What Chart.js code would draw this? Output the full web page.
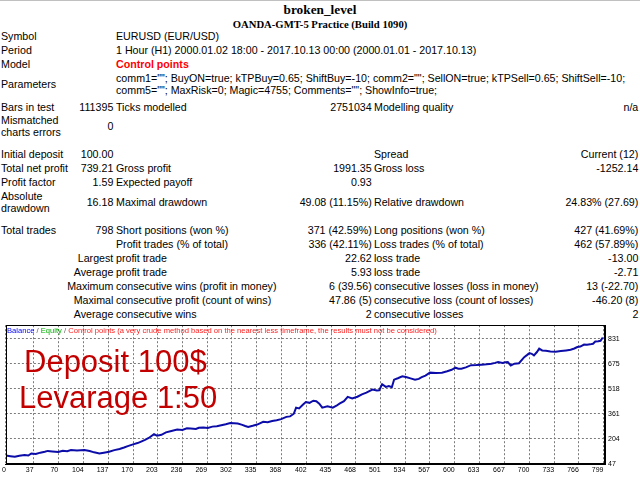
<!DOCTYPE html>
<html>
<head>
<meta charset="utf-8">
<script src="https://cdn.jsdelivr.net/npm/chart.js@4.4.1/dist/chart.umd.min.js"></script>
<style>
  html, body { margin: 0; padding: 0; background: #fff; }
  body { width: 640px; height: 480px; position: relative; overflow: hidden; }
  .topline { position: absolute; left: 0; top: 0; width: 640px; height: 1px; background: #c0c0c0; }
  .t { position: absolute; white-space: nowrap; font: 10.67px "Liberation Sans", Arial, sans-serif; line-height: 12px; color: #000; }
  .c1 { left: 1px; }
  .c2 { right: 526.7px; text-align: right; }
  .c3 { left: 116px; }
  .c4 { right: 268.3px; text-align: right; }
  .c5 { left: 374px; }
  .c6 { right: 1.7px; text-align: right; }
  .head { position: absolute; left: 0; width: 640px; text-align: center; font-family: "Liberation Serif", "Times New Roman", serif; font-weight: bold; white-space: nowrap; }
  .red { color: #ff0000; font-weight: bold; }
  #chartBox { position: absolute; left: 0; top: 318px; width: 640px; height: 162px; }
  .legend { position: absolute; left: 7px; top: 326px; font: 7.6px "Liberation Sans", Arial, sans-serif; line-height: 9px; white-space: nowrap; color: #555; }
  .big { position: absolute; font: 31px "Liberation Sans", Arial, sans-serif; line-height: 31px; color: #c20000; white-space: nowrap; }
</style>
</head>
<body>
<div class="topline"></div>
<div class="head" style="top:2px;font-size:13.3px;line-height:16px;">broken_level</div>
<div class="head" style="top:18px;font-size:10.67px;line-height:12px;">OANDA-GMT-5 Practice (Build 1090)</div>

<div class="t c1" style="top:30px">Symbol</div>
<div class="t c3" style="top:30px">EURUSD (EUR/USD)</div>
<div class="t c1" style="top:44px">Period</div>
<div class="t c3" style="top:44px">1 Hour (H1) 2000.01.02 18:00 - 2017.10.13 00:00 (2000.01.01 - 2017.10.13)</div>
<div class="t c1" style="top:58px">Model</div>
<div class="t c3 red" style="top:58px">Control points</div>
<div class="t c1" style="top:78px">Parameters</div>
<div class="t c3" style="top:72px">comm1=""; BuyON=true; kTPBuy=0.65; ShiftBuy=-10; comm2=""; SellON=true; kTPSell=0.65; ShiftSell=-10;</div>
<div class="t c3" style="top:84px">comm5=""; MaxRisk=0; Magic=4755; Comments=""; ShowInfo=true;</div>
<div class="t c1" style="top:101px">Bars in test</div>
<div class="t c2" style="top:101px">111395</div>
<div class="t c3" style="top:101px">Ticks modelled</div>
<div class="t c4" style="top:101px">2751034</div>
<div class="t c5" style="top:101px">Modelling quality</div>
<div class="t c6" style="top:101px">n/a</div>
<div class="t c1" style="top:114px">Mismatched</div>
<div class="t c1" style="top:126px">charts errors</div>
<div class="t c2" style="top:120px">0</div>

<div class="t c1" style="top:148px">Initial deposit</div>
<div class="t c2" style="top:148px">100.00</div>
<div class="t c5" style="top:148px">Spread</div>
<div class="t c6" style="top:148px">Current (12)</div>
<div class="t c1" style="top:162px">Total net profit</div>
<div class="t c2" style="top:162px">739.21</div>
<div class="t c3" style="top:162px">Gross profit</div>
<div class="t c4" style="top:162px">1991.35</div>
<div class="t c5" style="top:162px">Gross loss</div>
<div class="t c6" style="top:162px">-1252.14</div>
<div class="t c1" style="top:176px">Profit factor</div>
<div class="t c2" style="top:176px">1.59</div>
<div class="t c3" style="top:176px">Expected payoff</div>
<div class="t c4" style="top:176px">0.93</div>
<div class="t c1" style="top:190px">Absolute</div>
<div class="t c1" style="top:202px">drawdown</div>
<div class="t c2" style="top:196px">16.18</div>
<div class="t c3" style="top:196px">Maximal drawdown</div>
<div class="t c4" style="top:196px">49.08 (11.15%)</div>
<div class="t c5" style="top:196px">Relative drawdown</div>
<div class="t c6" style="top:196px">24.83% (27.69)</div>

<div class="t c1" style="top:224px">Total trades</div>
<div class="t c2" style="top:224px">798</div>
<div class="t c3" style="top:224px">Short positions (won %)</div>
<div class="t c4" style="top:224px">371 (42.59%)</div>
<div class="t c5" style="top:224px">Long positions (won %)</div>
<div class="t c6" style="top:224px">427 (41.69%)</div>
<div class="t c3" style="top:238px">Profit trades (% of total)</div>
<div class="t c4" style="top:238px">336 (42.11%)</div>
<div class="t c5" style="top:238px">Loss trades (% of total)</div>
<div class="t c6" style="top:238px">462 (57.89%)</div>
<div class="t c2" style="top:252px">Largest</div>
<div class="t c3" style="top:252px">profit trade</div>
<div class="t c4" style="top:252px">22.62</div>
<div class="t c5" style="top:252px">loss trade</div>
<div class="t c6" style="top:252px">-13.00</div>
<div class="t c2" style="top:266px">Average</div>
<div class="t c3" style="top:266px">profit trade</div>
<div class="t c4" style="top:266px">5.93</div>
<div class="t c5" style="top:266px">loss trade</div>
<div class="t c6" style="top:266px">-2.71</div>
<div class="t c2" style="top:280px">Maximum</div>
<div class="t c3" style="top:280px">consecutive wins (profit in money)</div>
<div class="t c4" style="top:280px">6 (39.56)</div>
<div class="t c5" style="top:280px">consecutive losses (loss in money)</div>
<div class="t c6" style="top:280px">13 (-22.70)</div>
<div class="t c2" style="top:294px">Maximal</div>
<div class="t c3" style="top:294px">consecutive profit (count of wins)</div>
<div class="t c4" style="top:294px">47.86 (5)</div>
<div class="t c5" style="top:294px">consecutive loss (count of losses)</div>
<div class="t c6" style="top:294px">-46.20 (8)</div>
<div class="t c2" style="top:308px">Average</div>
<div class="t c3" style="top:308px">consecutive wins</div>
<div class="t c4" style="top:308px">2</div>
<div class="t c5" style="top:308px">consecutive losses</div>
<div class="t c6" style="top:308px">2</div>

<div id="chartBox"><canvas id="balanceChart"></canvas></div>
<div class="legend"><span style="color:#0000ff">Balance</span> / <span style="color:#00b000">Equity</span> / <span style="color:#ff2020">Control points (a very crude method based on the nearest less timeframe, the results must not be considered)</span></div>
<div class="big" style="left:24px;top:346px">Deposit 100$</div>
<div class="big" style="left:19px;top:382px">Levarage 1:50</div>

<script>
// balance curve (trade number -> balance)
const tradeNo = [
  0, 6, 12, 18, 25, 30, 34, 40, 46, 52, 56, 62, 70, 76, 82, 87, 95, 100, 105, 112,
  118, 125, 131, 138, 145, 152, 158, 163, 170, 176, 180, 186, 191, 198, 202, 208, 214, 220, 229, 236,
  242, 247, 254, 258, 264, 270, 276, 282, 288, 294, 300, 305, 310, 316, 320, 324, 330, 336, 344, 350,
  356, 362, 368, 375, 380, 385, 388, 392, 397, 401, 406, 411, 415, 419, 423, 430, 437, 442, 446, 452,
  457, 463, 470, 476, 482, 490, 496, 499, 503, 508, 512, 516, 519, 524, 530, 536, 541, 547, 552, 556,
  561, 567, 575, 583, 590, 596, 601, 605, 609, 615, 622, 629, 636, 643, 649, 654, 658, 664, 668, 671,
  675, 680, 686, 693, 697, 700, 703, 706, 710, 713, 717, 722, 728, 735, 742, 749, 755, 760, 764, 768,
  773, 777, 781, 785, 788, 792, 795, 798
];
const balance = [
  100, 96, 92, 99, 103, 100, 113, 110, 118, 124, 129, 126, 122, 130, 127, 134, 131, 133, 134, 128,
  120, 113, 118, 124, 134, 141, 150, 159, 170, 178, 186, 198, 210, 234, 224, 230, 245, 252, 263, 260,
  270, 269, 266, 274, 276, 272, 281, 284, 290, 296, 304, 302, 300, 292, 285, 279, 286, 294, 311, 308,
  316, 321, 328, 342, 345, 362, 400, 395, 418, 435, 430, 443, 440, 425, 400, 408, 400, 412, 425, 440,
  467, 457, 468, 483, 494, 513, 507, 508, 546, 530, 535, 528, 575, 584, 596, 590, 583, 575, 580, 591,
  600, 619, 616, 619, 628, 637, 650, 644, 644, 652, 666, 667, 669, 671, 675, 680, 685, 679, 684, 685,
  664, 675, 678, 716, 730, 741, 737, 727, 748, 769, 758, 756, 752, 750, 754, 758, 762, 770, 779, 782,
  795, 794, 796, 800, 814, 815, 818, 839
];
const xTicks = [0, 37, 70, 104, 137, 170, 203, 236, 269, 302, 335, 368, 402, 435, 468, 501, 534, 567, 600, 633, 667, 700, 733, 766, 799];
const yTicks = [47, 204, 361, 518, 675, 831];

const frame = {
  id: "frame",
  afterDraw(chart) {
    const { ctx, chartArea: a } = chart;
    ctx.save();
    ctx.strokeStyle = "#000";
    ctx.lineWidth = 1;
    ctx.strokeRect(Math.round(a.left) + 0.5, Math.round(a.top) + 0.5, Math.round(a.right - a.left) - 1, Math.round(a.bottom - a.top) - 1);
    ctx.restore();
  }
};

new Chart(document.getElementById("balanceChart"), {
  type: "line",
  data: {
    datasets: [
      {
        label: "Balance",
        data: tradeNo.map((t, i) => ({ x: t, y: balance[i] })),
        borderColor: "#0c0ca8",
        borderWidth: 2,
        pointRadius: 0,
        tension: 0,
        fill: false
      }
    ]
  },
  options: {
    animation: false,
    responsive: true,
    maintainAspectRatio: false,
    layout: { padding: { left: 3, top: 7, right: 0, bottom: 0 } },
    plugins: { legend: { display: false }, tooltip: { enabled: false } },
    scales: {
      x: {
        type: "linear",
        min: 0,
        max: 801,
        afterBuildTicks: (s) => { s.ticks = xTicks.map((v) => ({ value: v })); },
        afterFit: (s) => { s.height = 16; },
        ticks: { align: "end", padding: 2, font: { family: "Liberation Sans", size: 7 }, color: "#000", maxRotation: 0, autoSkip: false },
        grid: { color: "#7a7a7a", drawTicks: false },
        border: { color: "#000", dash: [2, 2] }
      },
      y: {
        position: "right",
        min: 47,
        max: 916,
        afterBuildTicks: (s) => { s.ticks = yTicks.map((v) => ({ value: v })); },
        afterFit: (s) => { s.width = 35; },
        ticks: { padding: 3, font: { family: "Liberation Sans", size: 7 }, color: "#000", autoSkip: false },
        grid: { color: "#7a7a7a", drawTicks: false },
        border: { color: "#000", dash: [2, 2] }
      }
    }
  },
  plugins: [frame]
});
</script>
</body>
</html>
